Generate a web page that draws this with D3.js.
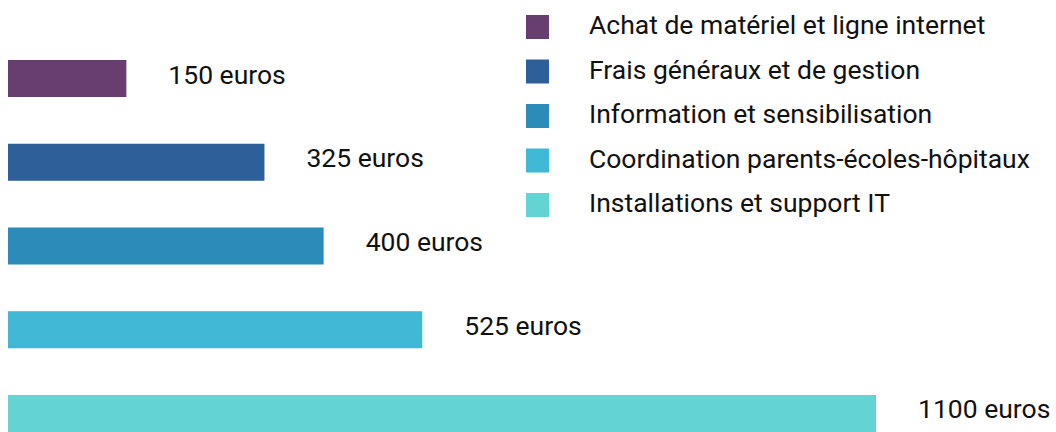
<!DOCTYPE html>
<html lang="fr">
    <head>
        <meta charset="UTF-8">
        <title>Budget</title>
        <style>
            body { margin: 0; background: #fff; }
            text { font-family: Roboto, "Noto Sans", sans-serif; fill: #111; }
        </style>
    </head>
    <script src="https://cdn.jsdelivr.net/npm/d3@7"></script>
    <body>
        <svg width="1056" height="432"></svg>
    </body>

    <script>
        var categories = [
            "Achat de matériel et ligne internet",
            "Frais généraux et de gestion",
            "Information et sensibilisation",
            "Coordination parents-écoles-hôpitaux",
            "Installations et support IT"
        ];
        var amounts = [150, 325, 400, 525, 1100];
        var colors = ["#673e6f", "#2f5f98", "#2d8bba", "#41b8d6", "#63d3d3"];

        var svg = d3.select("svg");

        //Scale Linear - amount
        var xScale = d3.scaleLinear()
            .domain([0, 1100])
            .range([8, 876]);

        //Scale Band - one row per category
        var yScale = d3.scaleBand()
            .domain(categories)
            .range([60, 432])
            .paddingInner(0.558)
            .paddingOuter(0);

        var colorScale = d3.scaleOrdinal()
            .domain(categories)
            .range(colors);

        var rows = categories.map(function(c, i) { return {cat: c, value: amounts[i]}; });

        svg.selectAll("rect.bar")
            .data(rows)
            .join("rect")
            .attr("class", "bar")
            .attr("x", xScale(0))
            .attr("y", function(d) { return yScale(d.cat); })
            .attr("width", function(d) { return xScale(d.value) - xScale(0); })
            .attr("height", yScale.bandwidth())
            .attr("fill", function(d) { return colorScale(d.cat); });

        svg.selectAll("text.val")
            .data(rows)
            .join("text")
            .attr("class", "val")
            .attr("x", function(d) { return xScale(d.value) + 42; })
            .attr("y", function(d) { return yScale(d.cat) + yScale.bandwidth() / 2 + 5; })
            .attr("font-size", 26.5)
            .text(function(d) { return d.value + " euros"; });

        //Legend
        var legendY = d3.scalePoint()
            .domain(categories)
            .range([27, 205]);

        var legend = svg.selectAll("g.legend")
            .data(categories)
            .join("g")
            .attr("class", "legend")
            .attr("transform", function(d) { return "translate(526," + legendY(d) + ")"; });

        legend.append("rect")
            .attr("x", 0)
            .attr("y", -12)
            .attr("width", 23)
            .attr("height", 24)
            .attr("fill", function(d) { return colorScale(d); });

        legend.append("text")
            .attr("x", 63)
            .attr("y", 7)
            .attr("font-size", 26.5)
            .text(function(d) { return d; });
    </script>
</html>
